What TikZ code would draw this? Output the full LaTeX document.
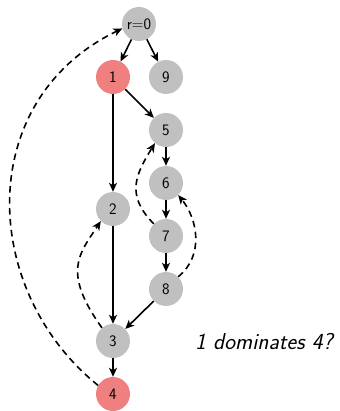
\documentclass[tikz,border=0pt]{standalone}
\usetikzlibrary{arrows.meta}
\definecolor{nodegray}{HTML}{C0C0C0}
\definecolor{nodered}{HTML}{F08080}
\begin{document}
\begin{tikzpicture}[x=1pt,y=-1pt,
  vtx/.style={circle,fill=nodegray,minimum size=34pt,inner sep=0pt,font=\sffamily\fontsize{16}{18}\selectfont},
  redvtx/.style={vtx,fill=nodered},
  edge/.style={line width=1.6pt,-{Stealth[length=9pt,width=8pt,inset=2.5pt]}},
  back/.style={edge,dash pattern=on 6.5pt off 4.5pt}]
\useasboundingbox (0,0) rectangle (339,411);
\node[vtx] (r) at (139,24) {r=0};
\node[redvtx] (n1) at (113,77) {1};
\node[vtx] (n9) at (166,77) {9};
\node[vtx] (n5) at (166,130) {5};
\node[vtx] (n6) at (166,183) {6};
\node[vtx] (n7) at (166,236) {7};
\node[vtx] (n8) at (166,289) {8};
\node[vtx] (n2) at (113,209) {2};
\node[vtx] (n3) at (113,341) {3};
\node[redvtx] (n4) at (113,394) {4};
\node[font=\sffamily\itshape\fontsize{23}{26}\selectfont] (q) at (264,342) {1 dominates 4?};
\draw[edge] (r) -- (n1);
\draw[edge] (r) -- (n9);
\draw[edge] (n1) -- (n5);
\draw[edge] (n1) -- (n2);
\draw[edge] (n2) -- (n3);
\draw[edge] (n5) -- (n6);
\draw[edge] (n6) -- (n7);
\draw[edge] (n7) -- (n8);
\draw[edge] (n8) -- (n3);
\draw[edge] (n3) -- (n4);
\draw[back] (n4.150) .. controls (-20,290) and (-26,100) .. (r.195);
\draw[back] (n3.130) .. controls (62,272) and (79,254) .. (n2.225);
\draw[back] (n7.135) .. controls (125,195) and (136,174) .. (n5.230);
\draw[back] (n8.45) .. controls (205,255) and (197,218) .. (n6.315);
\end{tikzpicture}
\end{document}
